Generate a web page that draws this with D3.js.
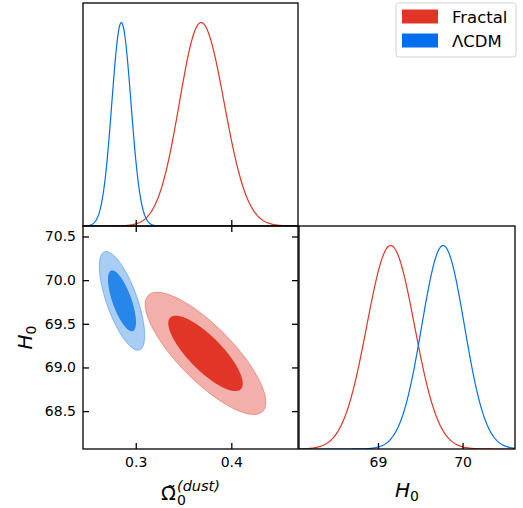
<!DOCTYPE html>
<html><head><meta charset="utf-8">
<script src="https://cdn.jsdelivr.net/npm/d3@7"></script>
<style>
body{margin:0;background:#fff}
svg{display:block}
text{font-family:"DejaVu Sans",sans-serif;fill:#000}
</style>
</head><body>
<svg id="c" width="523" height="508"></svg>
<script>
// ---------------- data ----------------
const models = ["Fractal", "ΛCDM"];
const lineColors = ["#E03424", "#006FED"];
const innerFill = ["#E13627", "#2686EA"];
const outerFill = ["#F3AFA9", "#AACDF5"];

// 1D marginal of Omega (mode, left/right widths)
const omegaPeak = [0.3683, 0.2849];
const omegaSigL = [0.0226, 0.0099];
const omegaSigR = [0.0242, 0.0101];
// 1D marginal of H0
const h0Peak = [69.15, 69.77];
const h0Sig = [0.282, 0.252];

// 2D posterior (mean, sd, correlation)
const omegaMean2D = [0.373, 0.2856];
const h0Mean2D = [69.161, 69.763];
const omegaSd2D = [0.0258, 0.0097];
const h0Sd2D = [0.286, 0.231];
const corr2D = [-0.80, -0.70];
const contourLevels = [0.95, 0.68];

const omegaTicks = [0.3, 0.4];
const omegaTickLabels = ["0.3", "0.4"];
const h0LeftTicks = [68.5, 69.0, 69.5, 70.0, 70.5];
const h0LeftTickLabels = ["68.5", "69.0", "69.5", "70.0", "70.5"];
const h0BottomTicks = [69, 70];
const h0BottomTickLabels = ["69", "70"];

const omegaRange = [0.2448, 0.4698];
const h0Range = [68.066, 70.62];

// ---------------- layout ----------------
const L = 83, M = 298, M2 = 299, R = 515, T = 3, Mid = 226, B = 449;
const svg = d3.select("#c");

const xO = d3.scaleLinear(omegaRange, [L, M]);
const yH = d3.scaleLinear(h0Range, [B, Mid]);
const xH = d3.scaleLinear(h0Range, [M2, R]);
const yTop = d3.scaleLinear([0, 1.096], [Mid, T]);
const yRight = d3.scaleLinear([0, 1.096], [B, Mid]);

const defs = svg.append("defs");
function clip(id, x, y, w, h) {
  defs.append("clipPath").attr("id", id).append("rect")
    .attr("x", x).attr("y", y).attr("width", w).attr("height", h);
}
clip("cTL", L, T, M - L, Mid - T);
clip("cBL", L, Mid, M - L, B - Mid);
clip("cBR", M2, Mid, R - M2, B - Mid);

// ---------------- 1D omega ----------------
const gTL = svg.append("g").attr("clip-path", "url(#cTL)");
const omegaGrid = d3.range(0, 401).map(i => omegaRange[0] + (omegaRange[1] - omegaRange[0]) * i / 400);
models.forEach((m, i) => {
  const pts = omegaGrid.map(x => {
    const s = x < omegaPeak[i] ? omegaSigL[i] : omegaSigR[i];
    return [x, Math.exp(-0.5 * ((x - omegaPeak[i]) / s) ** 2)];
  });
  gTL.append("path").attr("d", d3.line().x(d => xO(d[0])).y(d => yTop(d[1]))(pts))
    .attr("fill", "none").attr("stroke", lineColors[i]).attr("stroke-width", 1.2);
});

// ---------------- 1D H0 ----------------
const gBR = svg.append("g").attr("clip-path", "url(#cBR)");
const h0Grid = d3.range(0, 401).map(i => h0Range[0] + (h0Range[1] - h0Range[0]) * i / 400);
models.forEach((m, i) => {
  const pts = h0Grid.map(x => [x, Math.exp(-0.5 * ((x - h0Peak[i]) / h0Sig[i]) ** 2)]);
  gBR.append("path").attr("d", d3.line().x(d => xH(d[0])).y(d => yRight(d[1]))(pts))
    .attr("fill", "none").attr("stroke", lineColors[i]).attr("stroke-width", 1.2);
});

// ---------------- 2D contours ----------------
const gBL = svg.append("g").attr("clip-path", "url(#cBL)");
const tGrid = d3.range(0, 240).map(i => 2 * Math.PI * i / 240);
models.forEach((m, i) => {
  contourLevels.forEach((p, j) => {
    const k = Math.sqrt(-2 * Math.log(1 - p));
    const r = corr2D[i];
    const pts = tGrid.map(t => [
      omegaMean2D[i] + k * omegaSd2D[i] * Math.cos(t),
      h0Mean2D[i] + k * h0Sd2D[i] * (r * Math.cos(t) + Math.sqrt(1 - r * r) * Math.sin(t))
    ]);
    gBL.append("path")
      .attr("d", d3.line().x(d => xO(d[0])).y(d => yH(d[1])).curve(d3.curveLinearClosed)(pts))
      .attr("fill", j === 0 ? outerFill[i] : innerFill[i])
      .attr("stroke", lineColors[i])
      .attr("stroke-opacity", j === 0 ? 0.45 : 0.0)
      .attr("stroke-width", 0.9);
  });
});

// ---------------- axes ----------------
function styleAxis(g, fs) {
  g.select(".domain").remove();
  g.selectAll(".tick line").attr("stroke", "#000").attr("stroke-width", 1.3);
  g.selectAll(".tick text").attr("font-size", fs).attr("font-family", "DejaVu Sans").attr("fill", "#000");
}
const TS = -6;
styleAxis(svg.append("g").attr("transform", `translate(0,${Mid})`)
  .call(d3.axisBottom(xO).tickValues(omegaTicks).tickSize(TS).tickFormat("")), 14);
styleAxis(svg.append("g").attr("transform", `translate(0,${B})`)
  .call(d3.axisBottom(xO).tickValues(omegaTicks).tickSize(TS).tickPadding(8)
    .tickFormat((d, i) => omegaTickLabels[i])), 14);
styleAxis(svg.append("g").attr("transform", `translate(0,${Mid})`)
  .call(d3.axisTop(xO).tickValues(omegaTicks).tickSize(TS).tickFormat("")), 14);
styleAxis(svg.append("g").attr("transform", `translate(${L},0)`)
  .call(d3.axisLeft(yH).tickValues(h0LeftTicks).tickSize(TS).tickPadding(7)
    .tickFormat((d, i) => h0LeftTickLabels[i])), 14);
styleAxis(svg.append("g").attr("transform", `translate(${M},0)`)
  .call(d3.axisRight(yH).tickValues(h0LeftTicks).tickSize(TS).tickFormat("")), 14);
styleAxis(svg.append("g").attr("transform", `translate(0,${B})`)
  .call(d3.axisBottom(xH).tickValues(h0BottomTicks).tickSize(TS).tickPadding(8)
    .tickFormat((d, i) => h0BottomTickLabels[i])), 14);

// spines
[[L, T, M - L, Mid - T], [L, Mid, M - L, B - Mid], [M2, Mid, R - M2, B - Mid]].forEach(b => {
  svg.append("rect").attr("x", b[0]).attr("y", b[1]).attr("width", b[2]).attr("height", b[3])
    .attr("fill", "none").attr("stroke", "#000").attr("stroke-width", 1.3);
});

// ---------------- axis labels ----------------
const hb = svg.append("text").attr("x", (M2 + R) / 2).attr("y", 497).attr("text-anchor", "middle")
  .attr("font-size", 20);
hb.append("tspan").attr("font-style", "italic").text("H");
hb.append("tspan").attr("font-size", 14).attr("dy", 3.5).text("0");

const hl = svg.append("text").attr("transform", `translate(32,${(Mid + B) / 2}) rotate(-90)`)
  .attr("text-anchor", "middle").attr("font-size", 20);
hl.append("tspan").attr("font-style", "italic").text("H");
hl.append("tspan").attr("font-size", 14).attr("dy", 3.5).text("0");

// Omega tilde label (combining tilde)
const ox = 161;
const ol = svg.append("text").attr("x", ox).attr("y", 500);
ol.append("tspan").attr("font-size", 19.5).text("Ω\u0303");
ol.append("tspan").attr("x", ox + 16).attr("y", 505).attr("font-size", 14).text("0");
ol.append("tspan").attr("x", ox + 16).attr("y", 490.5).attr("font-size", 14.5).attr("font-style", "italic").text("(dust)");

// ---------------- legend ----------------
const lg = svg.append("g");
lg.append("rect").attr("x", 396).attr("y", 3).attr("width", 120).attr("height", 54).attr("rx", 3)
  .attr("fill", "#fff").attr("fill-opacity", 0.8).attr("stroke", "#d0d0d0").attr("stroke-width", 1);
models.forEach((m, i) => {
  lg.append("rect").attr("x", 402).attr("y", 9.5 + i * 24).attr("width", 36).attr("height", 14)
    .attr("fill", i === 0 ? innerFill[0] : lineColors[1]);
  lg.append("text").attr("x", 452).attr("y", 22.5 + i * 24).attr("font-size", 16.5).text(m);
});
</script>
</body></html>
